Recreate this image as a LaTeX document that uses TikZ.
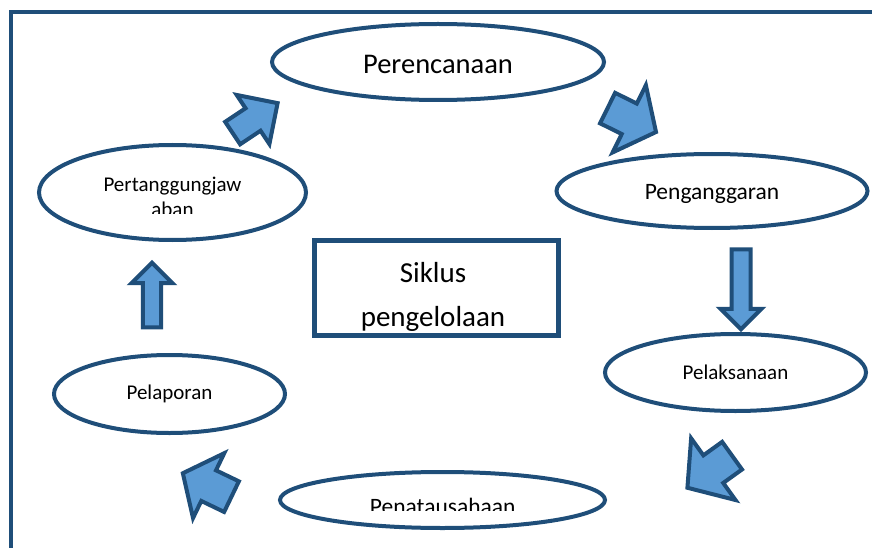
\documentclass[tikz,border=0pt]{standalone}
\usepackage{fontspec}
\setmainfont{Carlito}
\usetikzlibrary{shapes.geometric,shapes.arrows}
\definecolor{darkblue}{HTML}{1F4E79}
\definecolor{lightblue}{HTML}{5B9BD5}
\tikzset{
  oval/.style={ellipse, draw=darkblue, line width=4pt, inner sep=0pt},
  barrow/.style={single arrow, draw=darkblue, fill=lightblue, line width=4pt, inner xsep=0pt, minimum width=1pt, anchor=tail},
}
\begin{document}
\begin{tikzpicture}[x=1pt,y=-1pt]
\useasboundingbox (0,0) rectangle (872,548);
\draw[darkblue, line width=4pt] (11,548) -- (11,12) -- (872,12);
\node[oval, minimum width=332pt, minimum height=76pt, font=\fontsize{28.5}{34}\selectfont, text height=24pt, text depth=0pt] (plan) at (438,62) {Perencanaan};
\node[oval, minimum width=311pt, minimum height=74pt, font=\fontsize{23.5}{28}\selectfont, text height=18pt, text depth=0pt] (budget) at (712,191) {Penganggaran};
\node[oval, minimum width=261pt, minimum height=77pt, font=\fontsize{21}{25}\selectfont] (impl) at (735.5,372.5) {Pelaksanaan};
\node[oval, minimum width=325pt, minimum height=56pt] (admin) at (442.5,500) {};
\node[oval, minimum width=231pt, minimum height=78pt, font=\fontsize{21}{25}\selectfont] (report) at (169.5,394) {Pelaporan};
\node[oval, minimum width=267pt, minimum height=95pt] (account) at (172.5,192.5) {};
\node[draw=darkblue, line width=5pt, minimum width=244pt, minimum height=95pt, inner sep=0pt] (siklus) at (436,287.5) {};
\begin{scope}
\clip (40,150) rectangle (305,213);
\node[font=\fontsize{21}{25}\selectfont, align=center, anchor=base] (accounttext) at (172.5,216.7) {Pertanggungjaw\\aban};
\end{scope}
\begin{scope}
\clip (280,470) rectangle (605,510);
\node[font=\fontsize{23.5}{28}\selectfont, anchor=base] (admintext) at (442.7,514.9) {Penatausahaan};
\end{scope}
\begin{scope}
\clip (317,243) rectangle (555,330);
\node[font=\fontsize{29}{44}\selectfont, align=center, anchor=base] (sikltext) at (433,326) {Siklus\\pengelolaan};
\end{scope}
\node[barrow, rotate=33.7, minimum height=54pt, inner ysep=11.5pt, single arrow head extend=16pt] (arr1) at (231,134.2) {};
\node[barrow, rotate=-26.3, minimum height=54pt, inner ysep=15pt, single arrow head extend=20.5pt, single arrow tip angle=103] (arr2) at (605.8,107.2) {};
\node[barrow, rotate=-90, minimum height=80pt, inner ysep=7.5pt, single arrow head extend=11pt] (arr3) at (741,247.3) {};
\node[barrow, rotate=-144.3, minimum height=55pt, inner ysep=15pt, single arrow head extend=21pt, single arrow tip angle=100] (arr4) at (733.7,454.5) {};
\node[barrow, rotate=154.3, minimum height=54pt, inner ysep=15pt, single arrow head extend=19pt, single arrow tip angle=103] (arr5) at (233.3,497.5) {};
\node[barrow, rotate=90, minimum height=64.6pt, inner ysep=7.2pt, single arrow head extend=11.3pt] (arr6) at (152,329.3) {};
\end{tikzpicture}
\end{document}
